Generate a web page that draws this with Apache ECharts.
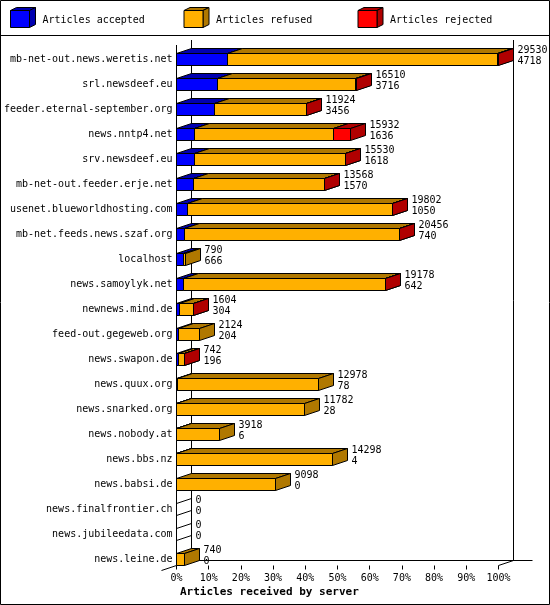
<!DOCTYPE html>
<html>
<head>
<meta charset="utf-8">
<script src="https://cdn.jsdelivr.net/npm/echarts@6/dist/echarts.min.js"></script>
<style>
html,body{margin:0;padding:0;background:#fff;}
#c{width:550px;height:605px;}
</style>
</head>
<body>
<div id="c"></div>
<script>
const categories = [
  'mb-net-out.news.weretis.net','srl.newsdeef.eu','feeder.eternal-september.org','news.nntp4.net',
  'srv.newsdeef.eu','mb-net-out.feeder.erje.net','usenet.blueworldhosting.com','mb-net.feeds.news.szaf.org',
  'localhost','news.samoylyk.net','newnews.mind.de','feed-out.gegeweb.org','news.swapon.de',
  'news.quux.org','news.snarked.org','news.nobody.at','news.bbs.nz','news.babsi.de',
  'news.finalfrontier.ch','news.jubileedata.com','news.leine.de'
];
const totals   = [29530,16510,11924,15932,15530,13568,19802,20456,790,19178,1604,2124,742,12978,11782,3918,14298,9098,0,0,740];
const accepted = [4718,3716,3456,1636,1618,1570,1050,740,666,642,304,204,196,78,28,6,4,0,0,0,0];
const refused  = [24722,12734,8428,12736,13862,11958,18722,19676,124,18506,1240,1920,516,12900,11754,3912,14294,9098,0,0,740];
const rejected = [90,60,40,1560,50,40,30,40,0,30,60,0,30,0,0,0,0,0,0,0,0];
const seriesNames = ['Articles accepted','Articles refused','Articles rejected'];
const xTitle = 'Articles received by server';

const FONT = '10px "DejaVu Sans Mono", "Liberation Mono", monospace';
const BOLD = 'bold 11px "DejaVu Sans Mono", "Liberation Mono", monospace';
const frontColors = ['#0000FF', '#FFB000', '#FF0000'];
const darkColors  = ['#0000B0', '#B07800', '#B00000'];
const DX = 15, DY = 5, HALF = 6;
const maxTotal = Math.max.apply(null, totals);
const segValues = [accepted, refused, rejected];

function px(v) { return Math.round(v - 0.5) + 0.5; }

function segData(s) {
  return categories.map(function (c, i) {
    let start = 0;
    for (let k = 0; k < s; k++) start += segValues[k][i];
    return [start, start + segValues[s][i], i];
  });
}

function segRender(s) {
  return function (params, api) {
    const i = api.value(2);
    const start = api.value(0), end = api.value(1);
    const p0 = api.coord([start, i]);
    const p1 = api.coord([end, i]);
    const cy = p0[1];
    const top = cy - HALF, bot = cy + HALF;
    const x0 = px(p0[0]), x1 = px(p1[0]);
    if (end - start === 0) {
      if (s === 0 && totals[i] === 0) {
        return {
          type: 'polygon',
          shape: { points: [[x0, top], [x0 + DX, top - DY], [x0 + DX, bot - DY], [x0, bot]] },
          style: { fill: 'none', stroke: '#000', lineWidth: 1 }
        };
      }
      return null;
    }
    const st = { stroke: '#000', lineWidth: 1 };
    return {
      type: 'group',
      children: [
        { type: 'rect', shape: { x: x0, y: top, width: x1 - x0, height: bot - top },
          style: Object.assign({ fill: frontColors[s] }, st) },
        { type: 'polygon', shape: { points: [[x0, top], [x0 + DX, top - DY], [x1 + DX, top - DY], [x1, top]] },
          style: Object.assign({ fill: darkColors[s] }, st) },
        { type: 'polygon', shape: { points: [[x1, top], [x1 + DX, top - DY], [x1 + DX, bot - DY], [x1, bot]] },
          style: Object.assign({ fill: darkColors[s] }, st) }
      ]
    };
  };
}

function frameRender(params, api) {
  const n = categories.length;
  const a = api.coord([0, 0]);
  const b = api.coord([maxTotal, n - 1]);
  const x0 = px(a[0]), x1 = px(b[0]);
  const yTop = a[1] - 14.5;
  const yBot = b[1] + HALF;
  const st = { stroke: '#000', lineWidth: 1 };
  function ln(xa, ya, xb, yb) { return { type: 'line', shape: { x1: xa, y1: ya, x2: xb, y2: yb }, style: st }; }
  return {
    type: 'group',
    children: [
      ln(x0, yTop, x0, yBot),
      ln(x0 + DX, yTop - DY, x0 + DX, yBot - DY),
      ln(x1 + DX, yTop - DY, x1 + DX, yBot - DY),
      ln(x0 + DX, yBot - DY, x1 + DX + 19, yBot - DY),
      ln(x0 - DX, yBot + DY, x0 + DX, yBot - DY),
      ln(x1, yBot, x1 + DX, yBot - DY)
    ]
  };
}

function labelRender(params, api) {
  const i = api.value(1);
  const p = api.coord([api.value(0), i]);
  const x = px(p[0]) + DX + 4;
  const cy = p[1];
  function t(txt, y) {
    return { type: 'text', x: x, y: y,
      style: { text: txt, font: FONT, fill: '#000', align: 'left', verticalAlign: 'middle',
               textAlign: 'left', textVerticalAlign: 'middle' } };
  }
  return { type: 'group', children: [t(String(totals[i]), cy - 9), t(String(accepted[i]), cy + 2)] };
}

// legend graphics
const legendX = [10, 183.5, 357.5];
const legendEls = [];
seriesNames.forEach(function (name, s) {
  const x = legendX[s] + 0.5, y = 10.5, w = 19, h = 17, dx = 6, dy = 3;
  const st = { stroke: '#000', lineWidth: 1 };
  legendEls.push({ type: 'polygon', shape: { points: [[x, y], [x + dx, y - dy], [x + w + dx, y - dy], [x + w, y]] },
    style: Object.assign({ fill: darkColors[s] }, st) });
  legendEls.push({ type: 'polygon', shape: { points: [[x + w, y], [x + w + dx, y - dy], [x + w + dx, y + h - dy], [x + w, y + h]] },
    style: Object.assign({ fill: darkColors[s] }, st) });
  legendEls.push({ type: 'rect', shape: { x: x, y: y, width: w, height: h },
    style: Object.assign({ fill: frontColors[s] }, st) });
  legendEls.push({ type: 'text', x: legendX[s] + 32.5, y: 20,
    style: { text: name, font: FONT, fill: '#000', verticalAlign: 'middle', textVerticalAlign: 'middle' } });
});

const chart = echarts.init(document.getElementById('c'), null, { renderer: 'canvas' });
chart.setOption({
  animation: false,
  backgroundColor: '#fff',
  grid: { left: 176.5, width: 322, top: 47, height: 525 },
  xAxis: {
    type: 'value', min: 0, max: maxTotal, interval: maxTotal / 10,
    offset: -6.5,
    axisLine: { show: false },
    splitLine: { show: false },
    axisTick: { show: true, length: 4, lineStyle: { color: '#000', width: 1 } },
    axisLabel: {
      margin: 8, color: '#000', fontFamily: '"DejaVu Sans Mono", monospace', fontSize: 10,
      formatter: function (v) { return Math.round(v / maxTotal * 100) + '%'; }
    }
  },
  yAxis: {
    type: 'category', inverse: true, data: categories,
    axisLine: { show: false }, axisTick: { show: false }, splitLine: { show: false },
    axisLabel: { margin: 4, color: '#000', fontFamily: '"DejaVu Sans Mono", monospace', fontSize: 10, interval: 0 }
  },
  graphic: {
    elements: [
      { type: 'rect', shape: { x: 0.5, y: 0.5, width: 549, height: 604 }, style: { fill: 'none', stroke: '#000', lineWidth: 1 }, z: 100 },
      { type: 'line', shape: { x1: 0, y1: 35.5, x2: 550, y2: 35.5 }, style: { stroke: '#000', lineWidth: 1 } },
      { type: 'text', x: 180, y: 592,
        style: { text: xTitle, font: BOLD, fill: '#000', verticalAlign: 'middle', textVerticalAlign: 'middle' } }
    ].concat(legendEls)
  },
  series: [
    { type: 'custom', name: 'frame', renderItem: frameRender, data: [[0, 0]], encode: { x: 0, y: 1 }, clip: false, z: 1, silent: true },
    { type: 'custom', name: seriesNames[0], renderItem: segRender(0), data: segData(0), encode: { x: [0, 1], y: 2 }, clip: false, z: 2 },
    { type: 'custom', name: seriesNames[1], renderItem: segRender(1), data: segData(1), encode: { x: [0, 1], y: 2 }, clip: false, z: 3 },
    { type: 'custom', name: seriesNames[2], renderItem: segRender(2), data: segData(2), encode: { x: [0, 1], y: 2 }, clip: false, z: 4 },
    { type: 'custom', name: 'labels', renderItem: labelRender, data: totals.map(function (t, i) { return [t, i]; }), encode: { x: 0, y: 1 }, clip: false, z: 5 }
  ]
});
</script>
</body>
</html>
